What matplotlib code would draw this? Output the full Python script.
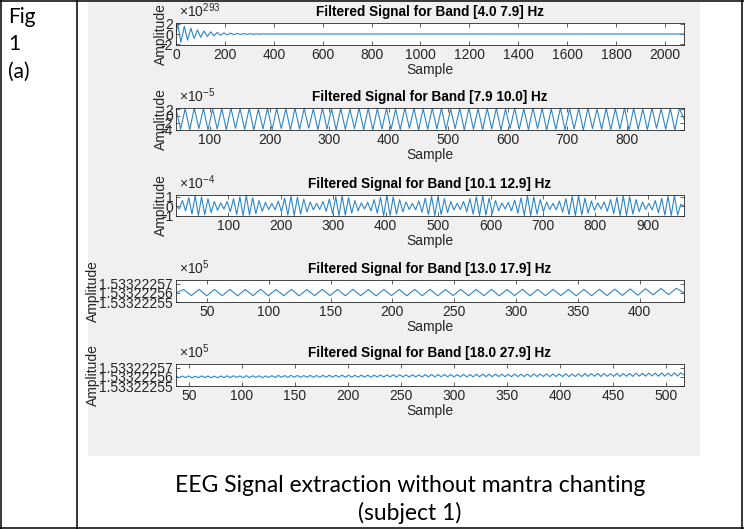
import numpy as np
import matplotlib
matplotlib.use("Agg")
import matplotlib.pyplot as plt
from matplotlib.patches import Rectangle
from matplotlib.lines import Line2D

plt.rcParams['font.family'] = ['Liberation Sans', 'DejaVu Sans']
plt.rcParams['axes.unicode_minus'] = False
plt.rcParams['mathtext.fontset'] = 'custom'
plt.rcParams['mathtext.rm'] = 'Liberation Sans'
plt.rcParams['mathtext.it'] = 'Liberation Sans'

# ---- data ----
titles = ['Filtered Signal for Band [4.0 7.9] Hz',
          'Filtered Signal for Band [7.9 10.0] Hz',
          'Filtered Signal for Band [10.1 12.9] Hz',
          'Filtered Signal for Band [13.0 17.9] Hz',
          'Filtered Signal for Band [18.0 27.9] Hz']
exponents = ['293', '-5', '-4', '5', '5']

# band 1: decaying oscillation (x 1e293), extrema positions and values
band1_x = [0, 7, 20, 34, 47, 61, 74, 88, 101, 115, 128, 142, 155, 169, 182, 196,
           209, 223, 236, 250, 263, 277, 290, 304, 317, 331, 344, 358, 371, 385,
           398, 412, 425, 439, 452, 2078]
band1_y = [0.0, 2.0, -1.6, 1.5, -1.2, 1.1, -0.88, 0.8, -0.65, 0.58, -0.48, 0.42,
           -0.35, 0.31, -0.26, 0.23, -0.19, 0.17, -0.14, 0.12, -0.1, 0.085, -0.07,
           0.06, -0.05, 0.04, -0.033, 0.027, -0.022, 0.018, -0.014, 0.011, -0.008, 0.005, -0.003, 0.0]

# band 2: extrema (x 1e-5), evenly spread over samples 43..896
band2_range = (43, 896)
band2_y = [2.2, -3.9, 2.1, -4.0, 2.3, -3.7, 2.2, -4.1, 2.0, -3.8, 2.2, -4.0, 2.3, -3.6, 2.1, -3.9,
           2.2, -4.1, 2.0, -3.8, 2.3, -4.0, 2.2, -3.7, 2.1, -4.1, 2.3, -3.9, 2.2, -3.6, 2.0, -4.0,
           2.3, -3.8, 2.1, -4.1, 2.2, -3.9, 2.0, -3.7, 2.3, -4.0, 2.2, -4.1, 2.1, -3.8, 2.2, -3.9,
           2.0, -4.0, 2.3, -3.6, 2.2, -4.1, 2.1, -3.9, 2.3, -3.8, 2.2, -4.0, 2.0, -3.7, 2.2, -4.1,
           2.3, -3.9, 2.1, -4.0, 2.2, -3.8, 2.3, -4.1, 2.0, -3.6, 2.2, -3.9, 2.1, -4.0, 2.3, -3.7,
           2.2, -4.1, 2.0, -3.9, 2.3, -4.0, 2.1, -3.8, 2.2, -4.1, 2.3, -3.7, 2.0, -3.9, 2.2, -4.0,
           2.1, -3.8, 2.3, -4.1, 2.2, -3.9, 2.0, -4.0, 2.3, -3.6, 2.1, -3.9, 2.2, -4.1, 2.2, -0.9]

# band 3: beating extrema (x 1e-4), samples 0..969
band3_range = (0, 969)
band3_y = [0.1, -0.3, 0.6, -0.5, 0.9, -0.85, 1.1, -1.0, 1.0, -0.9, 0.8, -0.7, 0.5, -0.45, 0.35, -0.3,
           0.5, -0.6, 0.8, -0.9, 1.0, -1.0, 1.15, -0.95, 0.9, -0.8, 0.6, -0.55, 0.4, -0.35, 0.3, -0.4,
           0.55, -0.6, 0.85, -0.95, 1.05, -1.0, 0.95, -0.85, 0.75, -0.6, 0.45, -0.4, 0.3, -0.35, 0.5, -0.55,
           0.75, -0.8, 1.0, -1.0, 1.1, -0.95, 0.9, -0.75, 0.6, -0.5, 0.35, -0.3, 0.4, -0.5, 0.7, -0.75,
           0.95, -1.0, 1.15, -1.0, 1.0, -0.85, 0.7, -0.6, 0.45, -0.35, 0.3, -0.4, 0.55, -0.65, 0.85, -0.9,
           1.05, -1.0, 1.0, -0.9, 0.8, -0.7, 0.5, -0.4, 0.3, -0.35, 0.5, -0.6, 0.8, -0.85, 1.0, -1.0,
           1.1, -0.95, 0.85, -0.75, 0.6, -0.5, 0.35, -0.3, 0.4, -0.5, 0.65, -0.75, 0.9, -1.0, 1.1, -1.0,
           1.0, -0.85, 0.7, -0.6, 0.45, -0.35, 0.3, -0.4, 0.55, -0.65, 0.8, -0.9, 1.05, -1.0, 1.1, -0.95,
           0.85, -0.75, 0.55, -0.45, 0.35, -0.3, 0.45, -0.55, 0.7, -0.8, 0.95, -1.0, 1.1, -1.0, 1.0, -0.85,
           0.7, -0.6, 0.45, -0.35, 0.3, -0.4, 0.6, -0.7, 0.85, -0.95, 1.05, -1.0, 1.15, -0.95, 0.2, 0.0]

# bands 4 and 5: level 1.53322256 (x 1e5) plus deviations in units of 1e-8
band45_level = 1.53322256
band4_range = (25, 436)
band4_dev = [0.0, 0.36, -0.3, 0.38, -0.32, 0.37, -0.31, 0.38, -0.33, 0.36, -0.3, 0.39, -0.32, 0.37, -0.31, 0.38,
             -0.33, 0.36, -0.31, 0.38, -0.3, 0.37, -0.32, 0.39, -0.31, 0.36, -0.33, 0.38, -0.3, 0.37, -0.32, 0.38,
             -0.31, 0.39, -0.33, 0.36, -0.3, 0.38, -0.32, 0.37, -0.31, 0.38, -0.33, 0.36, -0.3, 0.39, -0.32, 0.37,
             -0.31, 0.38, -0.3, 0.37, -0.32, 0.39, -0.31, 0.38, -0.3, 0.4, -0.28, 0.42, -0.26, 0.45, -0.22, 0.48,
             -0.2, 0.5, 0.0]
band5_range = (38, 517)
band5_dev = [0.08, -0.1, 0.09, -0.08, 0.1, -0.11, 0.07, -0.09, 0.1, -0.08, 0.09, -0.1, 0.08, -0.11, 0.1, -0.09,
             0.11, -0.08, 0.12, -0.07, 0.1, -0.09, 0.13, -0.08, 0.11, -0.06, 0.12, -0.09, 0.1, -0.07, 0.13, -0.08,
             0.15, -0.05, 0.14, -0.06, 0.16, -0.04, 0.15, -0.06, 0.14, -0.05, 0.16, -0.04, 0.15, -0.06, 0.17, -0.05,
             0.18, -0.04, 0.17, -0.03, 0.19, -0.05, 0.18, -0.03, 0.17, -0.04, 0.19, -0.03, 0.18, -0.05, 0.19, -0.02,
             0.22, -0.02, 0.21, -0.01, 0.23, -0.03, 0.22, 0.0, 0.21, -0.02, 0.23, -0.01, 0.22, -0.02, 0.24, 0.0,
             0.25, -0.01, 0.24, 0.01, 0.26, 0.0, 0.25, -0.01, 0.24, 0.01, 0.26, -0.01, 0.25, 0.0, 0.27, 0.01,
             0.29, 0.02, 0.28, 0.01, 0.3, 0.03, 0.29, 0.02, 0.28, 0.01, 0.3, 0.02, 0.29, 0.03, 0.31, 0.01,
             0.32, 0.03, 0.31, 0.04, 0.33, 0.02, 0.32, 0.04, 0.31, 0.03, 0.34, 0.02, 0.32, 0.04, 0.33, 0.03,
             0.36, 0.05, 0.35, 0.06, 0.37, 0.04, 0.36, 0.06, 0.35, 0.05, 0.38, 0.04, 0.36, 0.06, 0.37, 0.05,
             0.4, 0.08, 0.39, 0.07, 0.41, 0.09, 0.4, 0.07, 0.42, 0.08, 0.4, 0.09, 0.43, 0.08, 0.45, 0.2]

xticks = [np.arange(0, 2001, 200), np.arange(100, 801, 100), np.arange(100, 901, 100),
          np.arange(50, 401, 50), np.arange(50, 501, 50)]
yticks = [[-2, 0, 2], [-4, -2, 0, 2], [-1, 0, 1],
          [1.53322255, 1.53322256, 1.53322257], [1.53322255, 1.53322256, 1.53322257]]
ytick_labels = [['-2', '0', '2'], ['-4', '-2', '0', '2'], ['-1', '0', '1'],
                ['1.53322255', '1.53322256', '1.53322257'], ['1.53322255', '1.53322256', '1.53322257']]
caption = ['EEG Signal extraction without mantra chanting', '(subject 1)']
fig_label = ['Fig', '1', '(a)']

# ---- build series ----
series = [
    (np.array(band1_x), np.array(band1_y)),
    (np.linspace(*band2_range, len(band2_y)), np.array(band2_y)),
    (np.linspace(*band3_range, len(band3_y)), np.array(band3_y)),
    (np.linspace(*band4_range, len(band4_dev)), band45_level + np.array(band4_dev) * 1e-8),
    (np.linspace(*band5_range, len(band5_dev)), band45_level + np.array(band5_dev) * 1e-8),
]
xlims = [(0, 2078), band2_range, band3_range, band4_range, band5_range]
ylims = [(-2.15, 2.15), (-4.1, 2.3), (-1.05, 1.19), (1.53322255, 1.533222574), (1.53322255, 1.533222574)]

W, H = 744, 529
fig = plt.figure(figsize=(W / 100, H / 100), dpi=100)
fig.patch.set_facecolor('white')


def box(l, t, r, b):
    return [l / W, 1 - b / H, (r - l) / W, (b - t) / H]


# gray figure background and table lines
fig.add_artist(Rectangle((88 / W, 1 - 456 / H), (700 - 88) / W, (456 - 2) / H,
                         transform=fig.transFigure, facecolor='#F0F0F0', edgecolor='none', zorder=0))
for (x0, y0, x1, y1) in [(0.5, 0, 0.5, 529), (77, 0, 77, 529), (742, 0, 742, 529),
                         (0, 0.8, 744, 0.8), (0, 528, 744, 528)]:
    fig.add_artist(Line2D([x0 / W, x1 / W], [1 - y0 / H, 1 - y1 / H], transform=fig.transFigure,
                          color='black', lw=1.1))

rows = [(23, 45), (108, 130), (195, 216), (280, 302), (364, 386)]
ylab_x = [168, 168, 168, 100, 100]
left, right = 176, 684
fs = 10

for i, (top, bot) in enumerate(rows):
    ax = fig.add_axes(box(left, top, right, bot))
    x, y = series[i]
    ax.plot(x, y, color='#2B86CC', lw=0.8)
    ax.set_xlim(*xlims[i])
    ax.set_ylim(*ylims[i])
    ax.set_xticks(xticks[i])
    ax.set_yticks(yticks[i])
    ax.set_yticklabels(ytick_labels[i])
    ax.tick_params(direction='in', top=True, right=True, length=3, width=0.5,
                   labelsize=fs, pad=2, colors='#262626')
    for sp in ax.spines.values():
        sp.set_linewidth(0.6)
        sp.set_color('#262626')
    ax.set_title(titles[i], fontsize=9.8, fontweight='bold', pad=5, color='black')
    ax.set_xlabel('Sample', fontsize=fs, labelpad=1, color='#262626')
    ax.set_ylabel('Amplitude', fontsize=fs, color='#262626')
    ax.yaxis.set_label_coords((ylab_x[i] - left) / (right - left), 0.5)
    ax.text(0.005, 1.14, r'$\times10^{' + exponents[i] + '}$', transform=ax.transAxes,
            fontsize=fs, color='#262626', ha='left', va='bottom')

# captions
for j, line in enumerate(caption):
    fig.text(410 / W, 1 - (486 + 27 * j) / H, line, fontsize=16.5, family=['Lato', 'DejaVu Sans'],
             ha='center', va='center')
for j, line in enumerate(fig_label):
    fig.text(8 / W, 1 - (17 + 27.5 * j) / H, line, fontsize=15, family=['Lato', 'DejaVu Sans'],
             ha='left', va='center')

fig.savefig('out.png', dpi=100)
